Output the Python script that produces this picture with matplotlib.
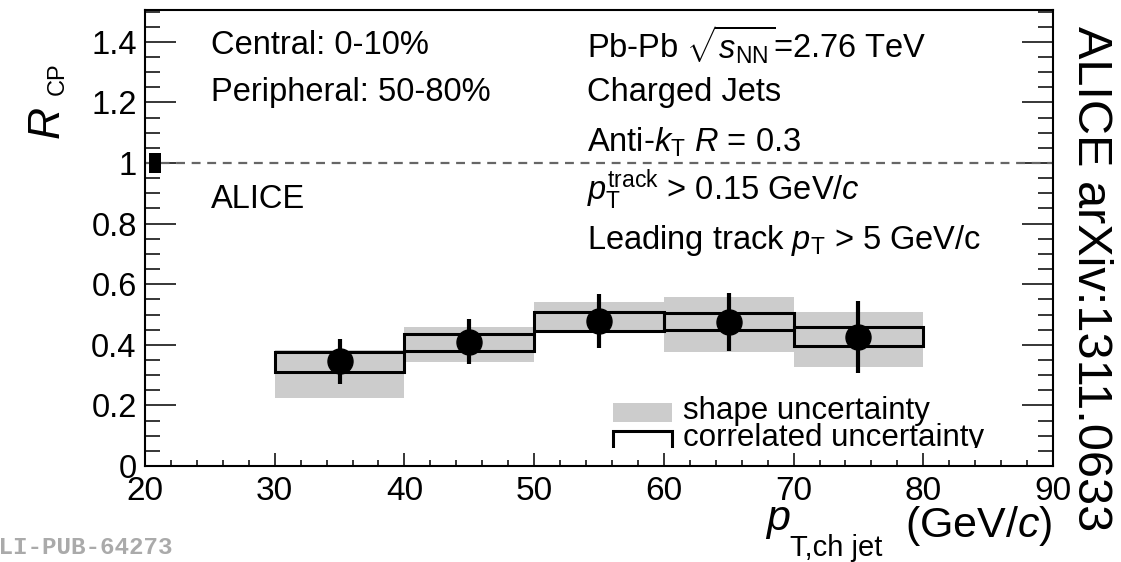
import matplotlib.pyplot as plt
import numpy as np
from matplotlib.transforms import Bbox, TransformedBbox

plt.rcParams['font.family'] = ['Liberation Sans', 'DejaVu Sans']
plt.rcParams['mathtext.fontset'] = 'custom'
plt.rcParams['mathtext.rm'] = 'Liberation Sans'
plt.rcParams['mathtext.it'] = 'Liberation Sans:italic'
plt.rcParams['mathtext.bf'] = 'Liberation Sans:bold'

# Data: R_CP of charged jets, bins in pT
bin_lo = np.array([30, 40, 50, 60, 70])
bin_hi = np.array([40, 50, 60, 70, 80])
rcp = np.array([0.345, 0.41, 0.479, 0.475, 0.426])
stat_err = np.array([0.075, 0.075, 0.09, 0.097, 0.12])
corr_lo = np.array([0.31, 0.38, 0.446, 0.449, 0.396])
corr_hi = np.array([0.376, 0.436, 0.508, 0.505, 0.459])
shape_lo = np.array([0.224, 0.343, 0.446, 0.376, 0.327])
shape_hi = np.array([0.383, 0.459, 0.541, 0.558, 0.508])
# normalisation uncertainty at unity
norm_lo, norm_hi = 0.967, 1.033

xticks = [20, 30, 40, 50, 60, 70, 80, 90]
yticks = [0, 0.2, 0.4, 0.6, 0.8, 1.0, 1.2, 1.4]
ytick_labels = ['0', '0.2', '0.4', '0.6', '0.8', '1', '1.2', '1.4']

W, H = 1121, 562
fig = plt.figure(figsize=(W / 100, H / 100), dpi=100)
ax = fig.add_axes([145 / W, 1 - 466 / H, (1053 - 145) / W, (466 - 10) / H])

centers = (bin_lo + bin_hi) / 2
widths = bin_hi - bin_lo

ax.bar(bin_lo, shape_hi - shape_lo, bottom=shape_lo, width=widths, align='edge',
       color='#cccccc', linewidth=0, zorder=1)
ax.bar(bin_lo, corr_hi - corr_lo, bottom=corr_lo, width=widths, align='edge',
       fill=False, edgecolor='black', linewidth=2.2, zorder=2)
ax.axhline(1.0, color='#666666', linestyle=(0, (4, 3)), linewidth=1.6, zorder=2)
ax.bar(20.3, norm_hi - norm_lo, bottom=norm_lo, width=0.9, align='edge',
       color='black', linewidth=0, zorder=3)
ax.errorbar(centers, rcp, yerr=stat_err, fmt='o', color='black', markersize=18,
            elinewidth=3, capsize=0, zorder=4)

ax.set_xlim(20, 90)
ax.set_ylim(0, 1.505)
ax.set_xticks(xticks)
ax.set_xticks(np.arange(20, 91, 2), minor=True)
ax.set_yticks(yticks)
ax.set_yticklabels(ytick_labels)
ax.set_yticks(np.arange(0, 1.51, 0.05), minor=True)

for s in ax.spines.values():
    s.set_linewidth(1.5)
ax.tick_params(axis='x', which='major', direction='in', length=9.5, width=1.1,
               labelsize=24, pad=7, top=False)
ax.tick_params(axis='x', which='minor', direction='in', length=4.5, width=1.1, top=False)
ax.tick_params(axis='y', which='major', direction='in', length=22, width=1.1,
               labelsize=23.5, pad=6, right=True)
ax.tick_params(axis='y', which='minor', direction='in', length=11, width=1.1, right=True)


def px(xp, yp):
    return xp / W, 1 - yp / H


# axis titles, ROOT style with large subscripts
fig.text(*px(765, 530), r'$p$', fontsize=31, ha='left', va='baseline')
fig.text(*px(790, 556), 'T,ch jet', fontsize=21, ha='left', va='baseline')
fig.text(*px(1052, 537), r'(GeV/$c$)', fontsize=31, ha='right', va='baseline')

fig.text(*px(60, 140), r'$R$', fontsize=32, rotation=90, rotation_mode='anchor',
         ha='left', va='baseline')
fig.text(*px(64, 95), 'CP', fontsize=17, rotation=90, rotation_mode='anchor',
         ha='left', va='baseline')

# labels in the plot
fs = 23.5
for s, yp in [('Central: 0-10%', 45), ('Peripheral: 50-80%', 92), ('ALICE', 200)]:
    fig.text(*px(211, yp), s, fontsize=fs, ha='left', va='center')
for s, yp in [(r'Pb-Pb $\sqrt{s_{\rm NN}}$=2.76 TeV', 45), ('Charged Jets', 92),
              (r'Anti-$k_{\rm T}$ $R$ = 0.3', 142),
              (r'$p_{\rm T}^{\rm track}$ > 0.15 GeV/$c$', 190),
              (r'Leading track $p_{\rm T}$ > 5 GeV/c', 240)]:
    fig.text(*px(587, yp), s, fontsize=fs, ha='left', va='center')

# legend (cut off at the bottom, as in the original)
clip = TransformedBbox(Bbox([[20, 0.059], [90, 2]]), ax.transData)
ax.bar(56.1, 0.063, bottom=0.145, width=4.5, align='edge', color='#cccccc',
       linewidth=0, zorder=5)
b2 = ax.bar(56.1, 0.076, bottom=0.04, width=4.5, align='edge', fill=False,
            edgecolor='black', linewidth=2.2, zorder=5)
for p in list(b2):
    p.set_clip_box(clip)
ax.text(61.5, 0.183, 'shape uncertainty', fontsize=22.5, va='center', ha='left')
t = ax.text(61.5, 0.092, 'correlated uncertainty', fontsize=22.5, va='center', ha='left')
t.set_clip_box(clip)
t.set_clip_on(True)

fig.text(*px(1090, 26), 'ALICE arXiv:1311.0633', fontsize=35, rotation=-90,
         ha='center', va='top')
fig.text(*px(172, 548), 'ALI-PUB-64273', fontsize=17.5, family='Liberation Mono',
         weight='bold', color='#aaaaaa', ha='right', va='center')

fig.savefig('out.png', dpi=100)
